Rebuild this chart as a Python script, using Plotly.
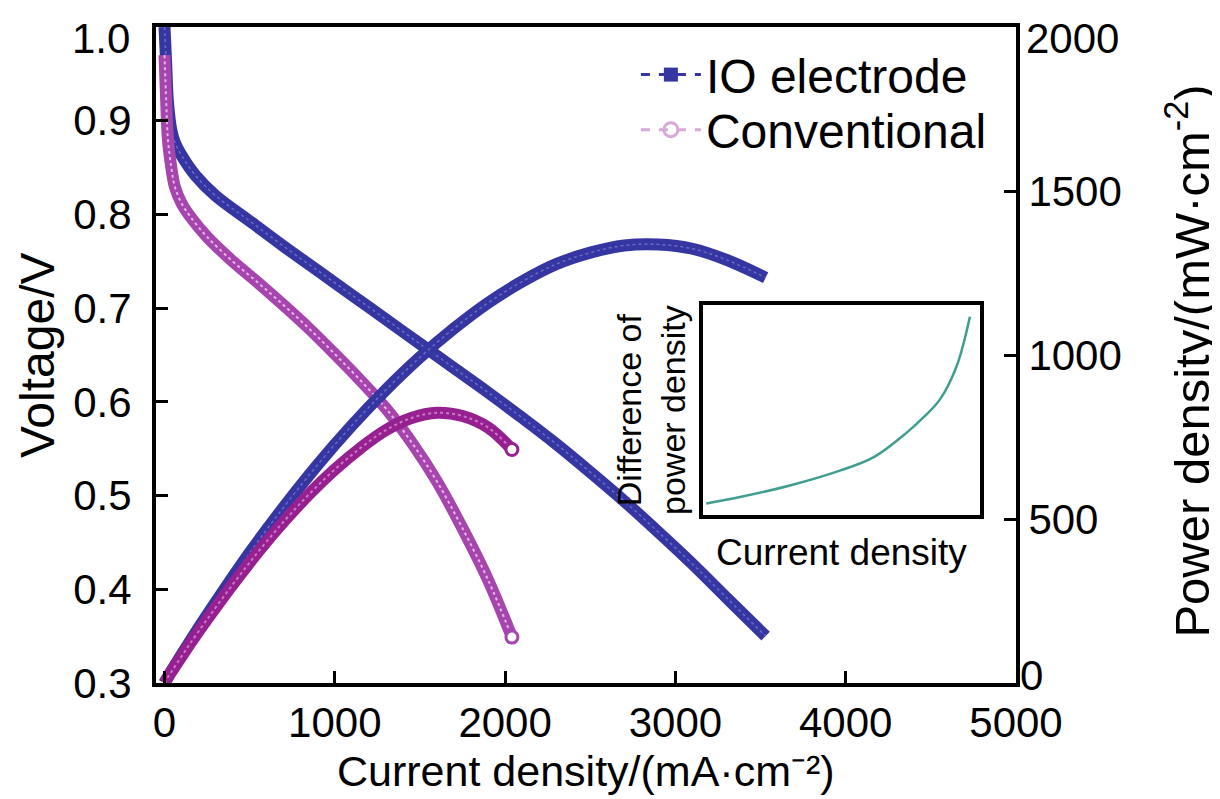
import plotly.graph_objects as go

# ---- data ----
io_current = [0, 10, 20, 40, 60, 100, 180, 300, 500, 700, 900, 1100, 1300, 1500,
              1700, 1900, 2100, 2300, 2500, 2700, 2900, 3100, 3300, 3530]
io_voltage = [1.0, 0.96, 0.92, 0.89, 0.877, 0.863, 0.842, 0.82, 0.793, 0.766, 0.74,
              0.714, 0.688, 0.662, 0.636, 0.61, 0.583, 0.555, 0.525, 0.494, 0.461,
              0.427, 0.391, 0.350]
io_power = [0, 10, 18, 36, 53, 86, 152, 246, 397, 536, 666, 785, 894, 993, 1081,
            1159, 1224, 1277, 1312, 1334, 1337, 1324, 1290, 1236]

conv_current = [0, 10, 20, 40, 60, 100, 150, 250, 400, 550, 700, 850, 1000, 1150,
                1300, 1450, 1600, 1750, 1900, 2040]
conv_voltage = [0.97, 0.92, 0.88, 0.85, 0.83, 0.812, 0.798, 0.776, 0.75, 0.727, 0.703,
                0.678, 0.651, 0.623, 0.593, 0.557, 0.515, 0.465, 0.41, 0.349]
conv_power = [0, 9, 18, 34, 50, 81, 120, 194, 300, 400, 492, 576, 651, 716, 771,
              808, 824, 814, 779, 712]

inset_x = [0.012, 0.138, 0.317, 0.497, 0.617, 0.737, 0.796, 0.856, 0.916, 0.964]
inset_y = [0.055, 0.087, 0.142, 0.213, 0.276, 0.394, 0.465, 0.551, 0.709, 0.945]

x_ticks = [0, 1000, 2000, 3000, 4000, 5000]
v_ticks = [0.3, 0.4, 0.5, 0.6, 0.7, 0.8, 0.9, 1.0]
v_labels = ["0.3", "0.4", "0.5", "0.6", "0.7", "0.8", "0.9", ""]
p_ticks = [0, 500, 1000, 1500, 2000]
p_labels = ["", "500", "1000", "1500", ""]

BLUE = "#3636a2"
PINK_V = "#a645ae"
PINK_P = "#96208f"
FONT = "Liberation Sans, Arial, sans-serif"

fig = go.Figure()

# IO electrode
fig.add_trace(go.Scatter(x=io_current, y=io_voltage, mode="lines", showlegend=False,
                         line=dict(color=BLUE, width=12, shape="spline")))
fig.add_trace(go.Scatter(x=io_current, y=io_voltage, mode="lines", showlegend=False,
                         line=dict(color="#6a6ac8", width=1.5, dash="dot", shape="spline")))
fig.add_trace(go.Scatter(x=io_current, y=io_power, yaxis="y2", mode="lines", showlegend=False,
                         line=dict(color=BLUE, width=12, shape="spline")))
fig.add_trace(go.Scatter(x=io_current, y=io_power, yaxis="y2", mode="lines", showlegend=False,
                         line=dict(color="#6a6ac8", width=1.5, dash="dot", shape="spline")))
# Conventional
fig.add_trace(go.Scatter(x=conv_current, y=conv_voltage, mode="lines", showlegend=False,
                         line=dict(color=PINK_V, width=12, shape="spline")))
fig.add_trace(go.Scatter(x=conv_current, y=conv_voltage, mode="lines", showlegend=False,
                         line=dict(color="#e4b8e4", width=2, dash="dot", shape="spline")))
fig.add_trace(go.Scatter(x=conv_current, y=conv_power, yaxis="y2", mode="lines", showlegend=False,
                         line=dict(color=PINK_P, width=12, shape="spline")))
fig.add_trace(go.Scatter(x=conv_current, y=conv_power, yaxis="y2", mode="lines", showlegend=False,
                         line=dict(color="#c878c8", width=2, dash="dot", shape="spline")))
# end markers
fig.add_trace(go.Scatter(x=[conv_current[-1]], y=[conv_voltage[-1]], mode="markers", showlegend=False,
                         marker=dict(symbol="circle", size=12, color="white",
                                     line=dict(color=PINK_V, width=3))))
fig.add_trace(go.Scatter(x=[conv_current[-1]], y=[conv_power[-1]], yaxis="y2", mode="markers",
                         showlegend=False,
                         marker=dict(symbol="circle", size=12, color="white",
                                     line=dict(color=PINK_P, width=3))))

# legend entries (one legend box per entry for exact row spacing)
fig.add_trace(go.Scatter(x=[None], y=[None], mode="lines+markers", name="IO electrode",
                         legend="legend",
                         line=dict(color=BLUE, width=3, dash="dash"),
                         marker=dict(symbol="square", size=14, color=BLUE)))
fig.add_trace(go.Scatter(x=[None], y=[None], mode="lines+markers", name="Conventional",
                         legend="legend2",
                         line=dict(color="#d8a8d8", width=3, dash="dash"),
                         marker=dict(symbol="circle-open", size=14, color="#d8a8d8",
                                     line=dict(width=3))))

# inset
fig.add_trace(go.Scatter(x=inset_x, y=inset_y, xaxis="x2", yaxis="y3", mode="lines",
                         showlegend=False, line=dict(color="#3f9e90", width=2.5, shape="spline")))

TICK_FONT = dict(size=42, color="black", family=FONT)
axis_common = dict(showline=True, linecolor="black", linewidth=4, ticks="inside",
                   ticklen=12, tickwidth=3, tickcolor="black", showgrid=False,
                   zeroline=False, automargin=False, tickfont=TICK_FONT)

legend_common = dict(xanchor="left", yanchor="middle", font=dict(size=48, family=FONT),
                     bgcolor="rgba(0,0,0,0)", itemwidth=60)

fig.update_layout(
    width=1212, height=791,
    margin=dict(l=148, r=204, t=19, b=116),
    paper_bgcolor="white", plot_bgcolor="white",
    font=dict(family=FONT, color="black"),
    xaxis=dict(range=[-50, 5000], tickvals=x_ticks, mirror=True, ticklabelstandoff=0,
               **axis_common),
    yaxis=dict(range=[0.3, 1.0], tickvals=v_ticks, ticktext=v_labels, ticklabelstandoff=12,
               **axis_common),
    yaxis2=dict(range=[0, 2000], tickvals=p_ticks, ticktext=p_labels, overlaying="y",
                side="right", ticklabelstandoff=0, **axis_common),
    xaxis2=dict(domain=[0.636, 0.958], anchor="y3", range=[0, 1], showline=True,
                linecolor="black", linewidth=4, mirror=True, showticklabels=False,
                ticks="", showgrid=False, zeroline=False, automargin=False,
                title=dict(text="Current density", font=dict(size=37), standoff=22)),
    yaxis3=dict(domain=[0.256, 0.576], anchor="x2", range=[0, 1], showline=True,
                linecolor="black", linewidth=4, mirror=True, showticklabels=False,
                ticks="", showgrid=False, zeroline=False, automargin=False,
                title=dict(text="Difference of<br>power density", font=dict(size=34),
                           standoff=4)),
    legend=dict(x=0.558, y=0.927, **legend_common),
    legend2=dict(x=0.558, y=0.843, **legend_common),
    annotations=[
        # end tick labels pushed inside the picture, as in the reference
        dict(text="1.0", xref="paper", yref="paper", x=0, y=1, xshift=-24, yshift=-11,
             xanchor="right", yanchor="middle", showarrow=False, font=TICK_FONT),
        dict(text="2000", xref="paper", yref="paper", x=1, y=1, xshift=8, yshift=-11,
             xanchor="left", yanchor="middle", showarrow=False, font=TICK_FONT),
        dict(text="0", xref="paper", yref="paper", x=1, y=0, xshift=2, yshift=8,
             xanchor="left", yanchor="middle", showarrow=False, font=TICK_FONT),
        dict(text="Current density/(mA·cm⁻²)", xref="paper", yref="paper",
             x=0.5, y=0, yshift=-88, xanchor="center", yanchor="middle",
             showarrow=False, font=dict(size=43, family=FONT, color="black")),
        dict(text="Voltage/V", xref="paper", yref="paper", x=0, y=0.5, xshift=-119,
             textangle=-90, xanchor="center", yanchor="middle", showarrow=False,
             font=dict(size=48, family=FONT, color="black")),
        dict(text="Power density/(mW·cm<sup>-2</sup>)", xref="paper", yref="paper",
             x=1, y=0.49, xshift=172, textangle=-90, xanchor="center", yanchor="middle",
             showarrow=False, font=dict(size=49, family=FONT, color="black")),
    ],
)

fig.write_html("out.html")
